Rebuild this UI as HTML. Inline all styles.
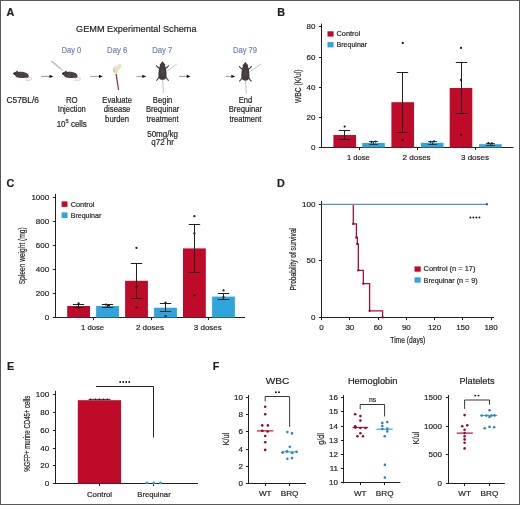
<!DOCTYPE html>
<html><head><meta charset="utf-8"><title>Figure</title>
<style>
html,body{margin:0;padding:0;background:#fff;width:520px;height:505px;overflow:hidden;}
svg{display:block;will-change:transform;}
text{font-family:"Liberation Sans", sans-serif;}
</style></head><body>
<svg width="520" height="505" viewBox="0 0 520 505" font-family='"Liberation Sans", sans-serif'>
<line x1="0.00" y1="0.50" x2="520.00" y2="0.50" stroke="#5a5a5a" stroke-width="1"/>
<line x1="0.50" y1="0.00" x2="0.50" y2="505.00" stroke="#585858" stroke-width="1"/>
<line x1="519.50" y1="0.00" x2="519.50" y2="505.00" stroke="#585858" stroke-width="1"/>
<line x1="0.00" y1="504.50" x2="520.00" y2="504.50" stroke="#585858" stroke-width="1"/>
<text x="6.60" y="16.10" font-size="10.8" font-weight="bold" fill="#231f20" stroke="#231f20" stroke-width="0.2">A</text>
<text x="277.20" y="16.10" font-size="10.8" font-weight="bold" fill="#231f20" stroke="#231f20" stroke-width="0.2">B</text>
<text x="6.60" y="187.10" font-size="10.8" font-weight="bold" fill="#231f20" stroke="#231f20" stroke-width="0.2">C</text>
<text x="276.90" y="187.10" font-size="10.8" font-weight="bold" fill="#231f20" stroke="#231f20" stroke-width="0.2">D</text>
<text x="7.00" y="370.30" font-size="10.8" font-weight="bold" fill="#231f20" stroke="#231f20" stroke-width="0.2">E</text>
<text x="212.80" y="370.30" font-size="10.8" font-weight="bold" fill="#231f20" stroke="#231f20" stroke-width="0.2">F</text>
<text x="136.30" y="31.60" font-size="9.4" text-anchor="middle" textLength="120.50" lengthAdjust="spacingAndGlyphs" fill="#231f20" stroke="#231f20" stroke-width="0.2">GEMM Experimental Schema</text>
<text x="71.40" y="52.90" font-size="8.5" text-anchor="middle" textLength="20.00" lengthAdjust="spacingAndGlyphs" fill="#7186b4" stroke="#7186b4" stroke-width="0.2">Day 0</text>
<text x="117.20" y="52.90" font-size="8.5" text-anchor="middle" textLength="20.20" lengthAdjust="spacingAndGlyphs" fill="#7186b4" stroke="#7186b4" stroke-width="0.2">Day 6</text>
<text x="162.30" y="52.90" font-size="8.5" text-anchor="middle" textLength="20.20" lengthAdjust="spacingAndGlyphs" fill="#7186b4" stroke="#7186b4" stroke-width="0.2">Day 7</text>
<text x="245.00" y="52.90" font-size="8.5" text-anchor="middle" textLength="24.20" lengthAdjust="spacingAndGlyphs" fill="#7186b4" stroke="#7186b4" stroke-width="0.2">Day 79</text>
<text x="22.70" y="102.90" font-size="8.4" text-anchor="middle" textLength="32.40" lengthAdjust="spacingAndGlyphs" fill="#231f20" stroke="#231f20" stroke-width="0.2">C57BL/6</text>
<text x="71.80" y="102.80" font-size="8.4" text-anchor="middle" textLength="11.80" lengthAdjust="spacingAndGlyphs" fill="#231f20" stroke="#231f20" stroke-width="0.2">RO</text>
<text x="71.80" y="112.40" font-size="8.4" text-anchor="middle" textLength="28.00" lengthAdjust="spacingAndGlyphs" fill="#231f20" stroke="#231f20" stroke-width="0.2">Injection</text>
<text x="71.75" y="126.8" fill="#231f20" stroke="#231f20" stroke-width="0.2" font-size="8.4" text-anchor="middle" textLength="30.2" lengthAdjust="spacingAndGlyphs">10<tspan font-size="6" dy="-3.4">5</tspan><tspan dy="3.4"> cells</tspan></text>
<text x="117.10" y="102.80" font-size="8.4" text-anchor="middle" textLength="29.50" lengthAdjust="spacingAndGlyphs" fill="#231f20" stroke="#231f20" stroke-width="0.2">Evaluate</text>
<text x="117.10" y="112.30" font-size="8.4" text-anchor="middle" textLength="26.50" lengthAdjust="spacingAndGlyphs" fill="#231f20" stroke="#231f20" stroke-width="0.2">disease</text>
<text x="117.10" y="121.80" font-size="8.4" text-anchor="middle" textLength="24.00" lengthAdjust="spacingAndGlyphs" fill="#231f20" stroke="#231f20" stroke-width="0.2">burden</text>
<text x="162.60" y="102.70" font-size="8.4" text-anchor="middle" textLength="19.50" lengthAdjust="spacingAndGlyphs" fill="#231f20" stroke="#231f20" stroke-width="0.2">Begin</text>
<text x="162.60" y="112.10" font-size="8.4" text-anchor="middle" textLength="33.40" lengthAdjust="spacingAndGlyphs" fill="#231f20" stroke="#231f20" stroke-width="0.2">Brequinar</text>
<text x="162.60" y="121.60" font-size="8.4" text-anchor="middle" textLength="32.00" lengthAdjust="spacingAndGlyphs" fill="#231f20" stroke="#231f20" stroke-width="0.2">treatment</text>
<text x="162.60" y="136.50" font-size="8.4" text-anchor="middle" textLength="30.80" lengthAdjust="spacingAndGlyphs" fill="#231f20" stroke="#231f20" stroke-width="0.2">50mg/kg</text>
<text x="162.60" y="145.40" font-size="8.4" text-anchor="middle" textLength="22.50" lengthAdjust="spacingAndGlyphs" fill="#231f20" stroke="#231f20" stroke-width="0.2">q72 hr</text>
<text x="245.40" y="102.50" font-size="8.4" text-anchor="middle" textLength="13.50" lengthAdjust="spacingAndGlyphs" fill="#231f20" stroke="#231f20" stroke-width="0.2">End</text>
<text x="245.40" y="112.00" font-size="8.4" text-anchor="middle" textLength="33.40" lengthAdjust="spacingAndGlyphs" fill="#231f20" stroke="#231f20" stroke-width="0.2">Brequinar</text>
<text x="245.40" y="121.50" font-size="8.4" text-anchor="middle" textLength="32.00" lengthAdjust="spacingAndGlyphs" fill="#231f20" stroke="#231f20" stroke-width="0.2">treatment</text>
<line x1="41.00" y1="76.40" x2="50.10" y2="76.40" stroke="#555" stroke-width="0.6"/>
<path d="M49.50,74.80 L53.30,76.40 L49.50,78.00 Z" fill="#111"/>
<line x1="90.30" y1="76.40" x2="99.60" y2="76.40" stroke="#555" stroke-width="0.6"/>
<path d="M99.00,74.80 L102.80,76.40 L99.00,78.00 Z" fill="#111"/>
<line x1="136.40" y1="76.40" x2="143.00" y2="76.40" stroke="#555" stroke-width="0.6"/>
<path d="M142.40,74.80 L146.20,76.40 L142.40,78.00 Z" fill="#111"/>
<line x1="179.00" y1="76.40" x2="187.30" y2="76.40" stroke="#555" stroke-width="0.6"/>
<path d="M186.70,74.80 L190.50,76.40 L186.70,78.00 Z" fill="#111"/>
<line x1="225.60" y1="76.40" x2="232.00" y2="76.40" stroke="#555" stroke-width="0.6"/>
<path d="M231.40,74.80 L235.20,76.40 L231.40,78.00 Z" fill="#111"/>
<g transform="translate(0.00,0)"><path d="M27.8,77.2 C30.4,77.2 32.0,78.2 31.6,79.3 C31.2,80.3 28.6,80.5 25.4,80.1" stroke="#dbc3c3" stroke-width="1.0" fill="none"/><path d="M15.8,77.3 L16.6,78.5 M19.6,77.8 L20.6,78.6 M25.6,77.8 L26.8,78.5" stroke="#dcc2c2" stroke-width="0.9" fill="none"/><path d="M13.2,73.5 C13.6,72.7 14.8,72.0 16.0,71.8 C16.3,71.0 16.9,70.6 17.5,70.8 C18.0,71.0 18.0,71.6 17.9,71.9 C21.0,71.3 25.0,71.8 27.3,73.6 C28.8,74.8 29.3,76.6 28.2,77.4 C25.0,78.0 20.0,78.0 17.5,77.6 C16.0,77.0 15.0,75.6 14.6,75.0 C13.9,74.7 13.3,74.2 13.2,73.5 Z" fill="#463d40"/><path d="M13.2,73.5 C13.5,72.9 14.3,72.5 15.2,72.5 L15.2,74.6 C14.3,74.5 13.5,74.1 13.2,73.5 Z" fill="#2a2326"/><path d="M19.5,73.4 C22,72.8 25,73.2 26.8,74.6 M19,75.6 C22,75.0 25,75.4 27.4,76.4" stroke="#5f5558" stroke-width="0.5" fill="none"/></g>
<g transform="translate(48.80,0)"><path d="M27.8,77.2 C30.4,77.2 32.0,78.2 31.6,79.3 C31.2,80.3 28.6,80.5 25.4,80.1" stroke="#dbc3c3" stroke-width="1.0" fill="none"/><path d="M15.8,77.3 L16.6,78.5 M19.6,77.8 L20.6,78.6 M25.6,77.8 L26.8,78.5" stroke="#dcc2c2" stroke-width="0.9" fill="none"/><path d="M13.2,73.5 C13.6,72.7 14.8,72.0 16.0,71.8 C16.3,71.0 16.9,70.6 17.5,70.8 C18.0,71.0 18.0,71.6 17.9,71.9 C21.0,71.3 25.0,71.8 27.3,73.6 C28.8,74.8 29.3,76.6 28.2,77.4 C25.0,78.0 20.0,78.0 17.5,77.6 C16.0,77.0 15.0,75.6 14.6,75.0 C13.9,74.7 13.3,74.2 13.2,73.5 Z" fill="#463d40"/><path d="M13.2,73.5 C13.5,72.9 14.3,72.5 15.2,72.5 L15.2,74.6 C14.3,74.5 13.5,74.1 13.2,73.5 Z" fill="#2a2326"/><path d="M19.5,73.4 C22,72.8 25,73.2 26.8,74.6 M19,75.6 C22,75.0 25,75.4 27.4,76.4" stroke="#5f5558" stroke-width="0.5" fill="none"/></g>
<line x1="51.00" y1="60.70" x2="62.80" y2="70.60" stroke="#dcdcdc" stroke-width="2.0"/>
<line x1="52.20" y1="61.70" x2="60.80" y2="68.90" stroke="#a8a8a8" stroke-width="1.2" stroke-dasharray="1.4 1.3"/>
<path d="M116.0,73.4 L118.6,90.0" stroke="#7e3a33" stroke-width="1.25" fill="none"/>
<path d="M113.0,67.8 C112.4,69.6 113.2,72.4 115.2,73.8 C116.4,74.4 117.4,73.6 117.4,72.4 C118.4,70.4 119.8,68.8 121.0,67.8 C122.2,66.6 121.8,64.2 120.0,63.8 C118.4,63.6 117.6,65.0 116.8,66.0 C115.8,65.8 113.8,66.4 113.0,67.8 Z" fill="#e6e2c2"/>
<path d="M113.0,67.8 C112.4,69.6 113.2,72.4 115.2,73.8 L115.6,70.0 C114.8,68.8 113.8,68.0 113.0,67.8 Z" fill="#d6cfc0"/>
<path d="M162.50,79.20 C162.70,84.20 163.40,88.20 163.40,92.90" stroke="#b0a6a6" stroke-width="0.75" fill="none"/><line x1="167.30" y1="70.80" x2="176.90" y2="64.00" stroke="#bdbdbd" stroke-width="0.9"/><path d="M159.90,68.80 L157.50,67.00 L156.30,65.40" stroke="#4a3f42" stroke-width="1.1" fill="none"/><path d="M159.30,76.80 L157.50,79.60 L156.20,80.50" stroke="#4a3f42" stroke-width="1.1" fill="none"/><circle cx="160.60" cy="64.60" r="0.9" fill="#4a3f42"/><path d="M165.10,68.80 L167.50,67.00 L168.70,65.40" stroke="#4a3f42" stroke-width="1.1" fill="none"/><path d="M165.70,76.80 L167.50,79.60 L168.80,80.50" stroke="#4a3f42" stroke-width="1.1" fill="none"/><circle cx="164.40" cy="64.60" r="0.9" fill="#4a3f42"/><path d="M162.50,61.20 C163.40,62.20 164.50,63.60 164.90,65.20 C165.30,66.40 165.70,67.20 165.90,68.20 C166.40,70.70 166.70,74.20 166.50,76.70 C166.30,78.70 164.70,79.80 162.50,79.80 C160.30,79.80 158.70,78.70 158.50,76.70 C158.30,74.20 158.60,70.70 159.10,68.20 C159.30,67.20 159.70,66.40 160.10,65.20 C160.50,63.60 161.60,62.20 162.50,61.20 Z" fill="#433a3d"/><ellipse cx="162.50" cy="72.20" rx="1.6" ry="4" fill="#5a5053" opacity="0.5"/>
<path d="M245.40,80.00 C245.60,85.00 246.30,89.00 246.30,93.70" stroke="#b0a6a6" stroke-width="0.75" fill="none"/><line x1="250.40" y1="71.20" x2="261.50" y2="63.80" stroke="#bdbdbd" stroke-width="0.9"/><path d="M242.80,69.60 L240.40,67.80 L239.20,66.20" stroke="#4a3f42" stroke-width="1.1" fill="none"/><path d="M242.20,77.60 L240.40,80.40 L239.10,81.30" stroke="#4a3f42" stroke-width="1.1" fill="none"/><circle cx="243.50" cy="65.40" r="0.9" fill="#4a3f42"/><path d="M248.00,69.60 L250.40,67.80 L251.60,66.20" stroke="#4a3f42" stroke-width="1.1" fill="none"/><path d="M248.60,77.60 L250.40,80.40 L251.70,81.30" stroke="#4a3f42" stroke-width="1.1" fill="none"/><circle cx="247.30" cy="65.40" r="0.9" fill="#4a3f42"/><path d="M245.40,62.00 C246.30,63.00 247.40,64.40 247.80,66.00 C248.20,67.20 248.60,68.00 248.80,69.00 C249.30,71.50 249.60,75.00 249.40,77.50 C249.20,79.50 247.60,80.60 245.40,80.60 C243.20,80.60 241.60,79.50 241.40,77.50 C241.20,75.00 241.50,71.50 242.00,69.00 C242.20,68.00 242.60,67.20 243.00,66.00 C243.40,64.40 244.50,63.00 245.40,62.00 Z" fill="#433a3d"/><ellipse cx="245.40" cy="73.00" rx="1.6" ry="4" fill="#5a5053" opacity="0.5"/>
<line x1="321.50" y1="23.60" x2="321.50" y2="148.00" stroke="#231f20" stroke-width="1"/>
<line x1="318.90" y1="26.50" x2="321.50" y2="26.50" stroke="#231f20" stroke-width="1.0"/>
<text x="315.40" y="29.45" font-size="8.0" text-anchor="end" fill="#231f20" stroke="#231f20" stroke-width="0.2">80</text>
<line x1="318.90" y1="57.50" x2="321.50" y2="57.50" stroke="#231f20" stroke-width="1.0"/>
<text x="315.40" y="59.60" font-size="8.0" text-anchor="end" fill="#231f20" stroke="#231f20" stroke-width="0.2">60</text>
<line x1="318.90" y1="87.50" x2="321.50" y2="87.50" stroke="#231f20" stroke-width="1.0"/>
<text x="315.40" y="89.75" font-size="8.0" text-anchor="end" fill="#231f20" stroke="#231f20" stroke-width="0.2">40</text>
<line x1="318.90" y1="117.50" x2="321.50" y2="117.50" stroke="#231f20" stroke-width="1.0"/>
<text x="315.40" y="119.90" font-size="8.0" text-anchor="end" fill="#231f20" stroke="#231f20" stroke-width="0.2">20</text>
<line x1="318.90" y1="147.50" x2="321.50" y2="147.50" stroke="#231f20" stroke-width="1.0"/>
<text x="315.40" y="150.05" font-size="8.0" text-anchor="end" fill="#231f20" stroke="#231f20" stroke-width="0.2">0</text>
<line x1="321.00" y1="147.50" x2="513.50" y2="147.50" stroke="#231f20" stroke-width="1"/>
<line x1="359.50" y1="147.50" x2="359.50" y2="150.10" stroke="#231f20" stroke-width="1.0"/>
<line x1="417.50" y1="147.50" x2="417.50" y2="150.10" stroke="#231f20" stroke-width="1.0"/>
<line x1="475.50" y1="147.50" x2="475.50" y2="150.10" stroke="#231f20" stroke-width="1.0"/>
<rect x="333.40" y="135.00" width="22.60" height="12.50" fill="#bf0a2a"/>
<rect x="391.40" y="102.20" width="22.60" height="45.30" fill="#bf0a2a"/>
<rect x="449.70" y="88.00" width="22.60" height="59.50" fill="#bf0a2a"/>
<rect x="362.20" y="143.00" width="22.60" height="4.50" fill="#2fa5de"/>
<rect x="420.90" y="142.80" width="22.60" height="4.70" fill="#2fa5de"/>
<rect x="479.10" y="144.20" width="22.60" height="3.30" fill="#2fa5de"/>
<line x1="344.50" y1="130.50" x2="344.50" y2="139.50" stroke="#231f20" stroke-width="1.0"/>
<line x1="338.80" y1="130.50" x2="350.20" y2="130.50" stroke="#231f20" stroke-width="1.0"/>
<line x1="338.80" y1="139.50" x2="350.20" y2="139.50" stroke="#231f20" stroke-width="1.0"/>
<line x1="402.50" y1="72.50" x2="402.50" y2="132.50" stroke="#231f20" stroke-width="1.0"/>
<line x1="396.80" y1="72.50" x2="408.20" y2="72.50" stroke="#231f20" stroke-width="1.0"/>
<line x1="396.80" y1="132.50" x2="408.20" y2="132.50" stroke="#231f20" stroke-width="1.0"/>
<line x1="461.50" y1="62.50" x2="461.50" y2="113.50" stroke="#231f20" stroke-width="1.0"/>
<line x1="455.80" y1="62.50" x2="467.20" y2="62.50" stroke="#231f20" stroke-width="1.0"/>
<line x1="455.80" y1="113.50" x2="467.20" y2="113.50" stroke="#231f20" stroke-width="1.0"/>
<line x1="373.50" y1="141.50" x2="373.50" y2="144.50" stroke="#231f20" stroke-width="0.8"/>
<line x1="369.00" y1="141.50" x2="378.00" y2="141.50" stroke="#231f20" stroke-width="0.8"/>
<line x1="369.00" y1="144.50" x2="378.00" y2="144.50" stroke="#231f20" stroke-width="0.8"/>
<line x1="432.50" y1="141.50" x2="432.50" y2="144.50" stroke="#231f20" stroke-width="0.8"/>
<line x1="428.00" y1="141.50" x2="437.00" y2="141.50" stroke="#231f20" stroke-width="0.8"/>
<line x1="428.00" y1="144.50" x2="437.00" y2="144.50" stroke="#231f20" stroke-width="0.8"/>
<line x1="490.50" y1="143.50" x2="490.50" y2="145.50" stroke="#231f20" stroke-width="0.8"/>
<line x1="486.00" y1="143.50" x2="495.00" y2="143.50" stroke="#231f20" stroke-width="0.8"/>
<line x1="486.00" y1="145.50" x2="495.00" y2="145.50" stroke="#231f20" stroke-width="0.8"/>
<circle cx="344.70" cy="126.60" r="1.15" fill="#231f20"/>
<circle cx="344.70" cy="139.20" r="1.15" fill="#231f20"/>
<circle cx="402.80" cy="43.00" r="1.15" fill="#231f20"/>
<circle cx="402.70" cy="140.20" r="1.15" fill="#231f20"/>
<circle cx="461.00" cy="47.90" r="1.15" fill="#231f20"/>
<circle cx="461.00" cy="80.00" r="1.15" fill="#231f20"/>
<circle cx="461.00" cy="134.80" r="1.15" fill="#231f20"/>
<circle cx="371.50" cy="142.00" r="1.15" fill="#231f20"/>
<circle cx="375.50" cy="141.60" r="1.15" fill="#231f20"/>
<circle cx="430.50" cy="141.80" r="1.15" fill="#231f20"/>
<circle cx="434.00" cy="141.40" r="1.15" fill="#231f20"/>
<circle cx="488.50" cy="143.20" r="1.15" fill="#231f20"/>
<circle cx="492.00" cy="143.40" r="1.15" fill="#231f20"/>
<text x="358.40" y="159.90" font-size="7.8" text-anchor="middle" textLength="23.00" lengthAdjust="spacingAndGlyphs" fill="#231f20" stroke="#231f20" stroke-width="0.2">1 dose</text>
<text x="416.60" y="159.90" font-size="7.8" text-anchor="middle" textLength="28.00" lengthAdjust="spacingAndGlyphs" fill="#231f20" stroke="#231f20" stroke-width="0.2">2 doses</text>
<text x="475.00" y="159.90" font-size="7.8" text-anchor="middle" textLength="28.00" lengthAdjust="spacingAndGlyphs" fill="#231f20" stroke="#231f20" stroke-width="0.2">3 doses</text>
<rect x="327.50" y="31.30" width="6.10" height="5.30" fill="#bf0a2a"/>
<rect x="327.50" y="42.10" width="6.10" height="5.30" fill="#2fa5de"/>
<text x="336.50" y="36.40" font-size="7.8" textLength="23.80" lengthAdjust="spacingAndGlyphs" fill="#231f20" stroke="#231f20" stroke-width="0.2">Control</text>
<text x="336.50" y="47.30" font-size="7.8" textLength="30.60" lengthAdjust="spacingAndGlyphs" fill="#231f20" stroke="#231f20" stroke-width="0.2">Brequinar</text>
<text x="300.70" y="86.20" font-size="9.0" text-anchor="middle" textLength="33.60" lengthAdjust="spacingAndGlyphs" fill="#231f20" stroke="#231f20" stroke-width="0.2" transform="rotate(-90 300.70 86.20)">WBC (K/ul)</text>
<line x1="55.50" y1="193.80" x2="55.50" y2="318.00" stroke="#231f20" stroke-width="1"/>
<line x1="52.90" y1="197.50" x2="55.50" y2="197.50" stroke="#231f20" stroke-width="1.0"/>
<text x="49.20" y="199.55" font-size="8.0" text-anchor="end" fill="#231f20" stroke="#231f20" stroke-width="0.2">1000</text>
<line x1="52.90" y1="221.50" x2="55.50" y2="221.50" stroke="#231f20" stroke-width="1.0"/>
<text x="49.20" y="223.65" font-size="8.0" text-anchor="end" fill="#231f20" stroke="#231f20" stroke-width="0.2">800</text>
<line x1="52.90" y1="245.50" x2="55.50" y2="245.50" stroke="#231f20" stroke-width="1.0"/>
<text x="49.20" y="247.75" font-size="8.0" text-anchor="end" fill="#231f20" stroke="#231f20" stroke-width="0.2">600</text>
<line x1="52.90" y1="269.50" x2="55.50" y2="269.50" stroke="#231f20" stroke-width="1.0"/>
<text x="49.20" y="271.85" font-size="8.0" text-anchor="end" fill="#231f20" stroke="#231f20" stroke-width="0.2">400</text>
<line x1="52.90" y1="293.50" x2="55.50" y2="293.50" stroke="#231f20" stroke-width="1.0"/>
<text x="49.20" y="295.95" font-size="8.0" text-anchor="end" fill="#231f20" stroke="#231f20" stroke-width="0.2">200</text>
<line x1="52.90" y1="317.50" x2="55.50" y2="317.50" stroke="#231f20" stroke-width="1.0"/>
<text x="49.20" y="320.05" font-size="8.0" text-anchor="end" fill="#231f20" stroke="#231f20" stroke-width="0.2">0</text>
<line x1="55.00" y1="317.50" x2="245.00" y2="317.50" stroke="#231f20" stroke-width="1"/>
<line x1="93.50" y1="317.50" x2="93.50" y2="320.10" stroke="#231f20" stroke-width="1.0"/>
<line x1="151.50" y1="317.50" x2="151.50" y2="320.10" stroke="#231f20" stroke-width="1.0"/>
<line x1="208.50" y1="317.50" x2="208.50" y2="320.10" stroke="#231f20" stroke-width="1.0"/>
<rect x="67.20" y="306.00" width="22.80" height="11.50" fill="#bf0a2a"/>
<rect x="125.10" y="280.80" width="22.80" height="36.70" fill="#bf0a2a"/>
<rect x="183.00" y="248.40" width="22.80" height="69.10" fill="#bf0a2a"/>
<rect x="96.10" y="306.00" width="22.80" height="11.50" fill="#2fa5de"/>
<rect x="154.10" y="307.70" width="22.80" height="9.80" fill="#2fa5de"/>
<rect x="212.10" y="296.60" width="22.80" height="20.90" fill="#2fa5de"/>
<line x1="78.50" y1="304.50" x2="78.50" y2="307.50" stroke="#231f20" stroke-width="1.0"/>
<line x1="72.80" y1="304.50" x2="84.20" y2="304.50" stroke="#231f20" stroke-width="1.0"/>
<line x1="72.80" y1="307.50" x2="84.20" y2="307.50" stroke="#231f20" stroke-width="1.0"/>
<line x1="136.50" y1="263.50" x2="136.50" y2="298.50" stroke="#231f20" stroke-width="1.0"/>
<line x1="130.80" y1="263.50" x2="142.20" y2="263.50" stroke="#231f20" stroke-width="1.0"/>
<line x1="130.80" y1="298.50" x2="142.20" y2="298.50" stroke="#231f20" stroke-width="1.0"/>
<line x1="194.50" y1="224.50" x2="194.50" y2="272.50" stroke="#231f20" stroke-width="1.0"/>
<line x1="188.80" y1="224.50" x2="200.20" y2="224.50" stroke="#231f20" stroke-width="1.0"/>
<line x1="188.80" y1="272.50" x2="200.20" y2="272.50" stroke="#231f20" stroke-width="1.0"/>
<line x1="107.50" y1="304.50" x2="107.50" y2="307.50" stroke="#231f20" stroke-width="1.0"/>
<line x1="101.80" y1="304.50" x2="113.20" y2="304.50" stroke="#231f20" stroke-width="1.0"/>
<line x1="101.80" y1="307.50" x2="113.20" y2="307.50" stroke="#231f20" stroke-width="1.0"/>
<line x1="165.50" y1="303.50" x2="165.50" y2="311.50" stroke="#231f20" stroke-width="1.0"/>
<line x1="159.80" y1="303.50" x2="171.20" y2="303.50" stroke="#231f20" stroke-width="1.0"/>
<line x1="159.80" y1="311.50" x2="171.20" y2="311.50" stroke="#231f20" stroke-width="1.0"/>
<line x1="223.50" y1="293.50" x2="223.50" y2="299.50" stroke="#231f20" stroke-width="1.0"/>
<line x1="217.80" y1="293.50" x2="229.20" y2="293.50" stroke="#231f20" stroke-width="1.0"/>
<line x1="217.80" y1="299.50" x2="229.20" y2="299.50" stroke="#231f20" stroke-width="1.0"/>
<circle cx="78.60" cy="303.50" r="1.15" fill="#231f20"/>
<circle cx="78.60" cy="308.20" r="1.15" fill="#231f20"/>
<circle cx="136.50" cy="247.90" r="1.15" fill="#231f20"/>
<circle cx="136.50" cy="287.00" r="1.15" fill="#231f20"/>
<circle cx="136.50" cy="307.30" r="1.15" fill="#231f20"/>
<circle cx="194.40" cy="216.20" r="1.15" fill="#231f20"/>
<circle cx="194.40" cy="233.50" r="1.15" fill="#231f20"/>
<circle cx="194.40" cy="295.40" r="1.15" fill="#231f20"/>
<circle cx="106.00" cy="304.60" r="1.15" fill="#231f20"/>
<circle cx="109.00" cy="305.40" r="1.15" fill="#231f20"/>
<circle cx="165.50" cy="302.60" r="1.15" fill="#231f20"/>
<circle cx="165.50" cy="316.10" r="1.15" fill="#231f20"/>
<circle cx="223.50" cy="290.40" r="1.15" fill="#231f20"/>
<circle cx="223.50" cy="297.20" r="1.15" fill="#231f20"/>
<text x="92.60" y="330.10" font-size="7.8" text-anchor="middle" textLength="23.00" lengthAdjust="spacingAndGlyphs" fill="#231f20" stroke="#231f20" stroke-width="0.2">1 dose</text>
<text x="149.90" y="330.10" font-size="7.8" text-anchor="middle" textLength="28.00" lengthAdjust="spacingAndGlyphs" fill="#231f20" stroke="#231f20" stroke-width="0.2">2 doses</text>
<text x="207.80" y="330.10" font-size="7.8" text-anchor="middle" textLength="28.00" lengthAdjust="spacingAndGlyphs" fill="#231f20" stroke="#231f20" stroke-width="0.2">3 doses</text>
<rect x="61.60" y="201.40" width="5.90" height="5.50" fill="#bf0a2a"/>
<rect x="61.60" y="212.40" width="5.90" height="5.60" fill="#2fa5de"/>
<text x="70.70" y="206.90" font-size="7.8" textLength="23.80" lengthAdjust="spacingAndGlyphs" fill="#231f20" stroke="#231f20" stroke-width="0.2">Control</text>
<text x="70.70" y="217.90" font-size="7.8" textLength="30.60" lengthAdjust="spacingAndGlyphs" fill="#231f20" stroke="#231f20" stroke-width="0.2">Brequinar</text>
<text x="24.90" y="255.80" font-size="8.4" text-anchor="middle" textLength="57.00" lengthAdjust="spacingAndGlyphs" fill="#231f20" stroke="#231f20" stroke-width="0.2" transform="rotate(-90 24.90 255.80)">Spleen weight (mg)</text>
<line x1="321.50" y1="201.00" x2="321.50" y2="318.00" stroke="#231f20" stroke-width="1"/>
<line x1="318.90" y1="204.50" x2="321.50" y2="204.50" stroke="#231f20" stroke-width="1.0"/>
<text x="315.40" y="206.75" font-size="8.0" text-anchor="end" fill="#231f20" stroke="#231f20" stroke-width="0.2">100</text>
<line x1="318.90" y1="260.50" x2="321.50" y2="260.50" stroke="#231f20" stroke-width="1.0"/>
<text x="315.40" y="263.40" font-size="8.0" text-anchor="end" fill="#231f20" stroke="#231f20" stroke-width="0.2">50</text>
<line x1="318.90" y1="317.50" x2="321.50" y2="317.50" stroke="#231f20" stroke-width="1.0"/>
<text x="315.40" y="320.05" font-size="8.0" text-anchor="end" fill="#231f20" stroke="#231f20" stroke-width="0.2">0</text>
<line x1="321.00" y1="317.50" x2="494.00" y2="317.50" stroke="#231f20" stroke-width="1"/>
<line x1="321.50" y1="317.50" x2="321.50" y2="320.10" stroke="#231f20" stroke-width="1.0"/>
<line x1="349.50" y1="317.50" x2="349.50" y2="320.10" stroke="#231f20" stroke-width="1.0"/>
<line x1="378.50" y1="317.50" x2="378.50" y2="320.10" stroke="#231f20" stroke-width="1.0"/>
<line x1="406.50" y1="317.50" x2="406.50" y2="320.10" stroke="#231f20" stroke-width="1.0"/>
<line x1="434.50" y1="317.50" x2="434.50" y2="320.10" stroke="#231f20" stroke-width="1.0"/>
<line x1="462.50" y1="317.50" x2="462.50" y2="320.10" stroke="#231f20" stroke-width="1.0"/>
<line x1="491.50" y1="317.50" x2="491.50" y2="320.10" stroke="#231f20" stroke-width="1.0"/>
<text x="321.60" y="329.90" font-size="8.0" text-anchor="middle" fill="#231f20" stroke="#231f20" stroke-width="0.2">0</text>
<text x="349.85" y="329.90" font-size="8.0" text-anchor="middle" fill="#231f20" stroke="#231f20" stroke-width="0.2">30</text>
<text x="378.10" y="329.90" font-size="8.0" text-anchor="middle" fill="#231f20" stroke="#231f20" stroke-width="0.2">60</text>
<text x="406.35" y="329.90" font-size="8.0" text-anchor="middle" fill="#231f20" stroke="#231f20" stroke-width="0.2">90</text>
<text x="434.60" y="329.90" font-size="8.0" text-anchor="middle" fill="#231f20" stroke="#231f20" stroke-width="0.2">120</text>
<text x="462.85" y="329.90" font-size="8.0" text-anchor="middle" fill="#231f20" stroke="#231f20" stroke-width="0.2">150</text>
<text x="491.10" y="329.90" font-size="8.0" text-anchor="middle" fill="#231f20" stroke="#231f20" stroke-width="0.2">180</text>
<text x="407.80" y="342.80" font-size="8.8" text-anchor="middle" textLength="35.00" lengthAdjust="spacingAndGlyphs" fill="#231f20" stroke="#231f20" stroke-width="0.2">Time (days)</text>
<text x="296.30" y="259.20" font-size="8.2" text-anchor="middle" textLength="62.50" lengthAdjust="spacingAndGlyphs" fill="#231f20" stroke="#231f20" stroke-width="0.2" transform="rotate(-90 296.30 259.20)">Probability of survival</text>
<line x1="321.50" y1="204.40" x2="487.20" y2="204.40" stroke="#5a94c4" stroke-width="1.2"/>
<rect x="485.9" y="203.2" width="2.0" height="2.0" fill="#2d5a66"/>
<path d="M353.3,204.9 V223.9 H356.4 V237.5 H357.3 V243.9 H358.3 V270.4 H363.3 V283.7 H369.6 V310.8 H382.6 V317.4" stroke="#a60e34" stroke-width="1.3" fill="none" stroke-linejoin="miter"/>
<rect x="352.30" y="222.90" width="2" height="2" fill="#8a0c2c"/>
<rect x="355.40" y="236.50" width="2" height="2" fill="#8a0c2c"/>
<rect x="356.30" y="242.90" width="2" height="2" fill="#8a0c2c"/>
<rect x="357.30" y="269.40" width="2" height="2" fill="#8a0c2c"/>
<rect x="362.30" y="282.70" width="2" height="2" fill="#8a0c2c"/>
<rect x="368.60" y="309.80" width="2" height="2" fill="#8a0c2c"/>
<rect x="381.60" y="316.40" width="2" height="2" fill="#8a0c2c"/>
<circle cx="470.40" cy="217.50" r="0.95" fill="#111"/>
<circle cx="473.40" cy="217.50" r="0.95" fill="#111"/>
<circle cx="476.40" cy="217.50" r="0.95" fill="#111"/>
<circle cx="479.40" cy="217.50" r="0.95" fill="#111"/>
<rect x="414.50" y="266.40" width="6.20" height="5.30" fill="#bf0a2a"/>
<rect x="414.50" y="277.30" width="6.20" height="5.40" fill="#2fa5de"/>
<text x="423.60" y="271.40" font-size="7.8" textLength="51.80" lengthAdjust="spacingAndGlyphs" fill="#231f20" stroke="#231f20" stroke-width="0.2">Control (n = 17)</text>
<text x="423.60" y="282.50" font-size="7.8" textLength="54.00" lengthAdjust="spacingAndGlyphs" fill="#231f20" stroke="#231f20" stroke-width="0.2">Brequinar (n = 9)</text>
<line x1="55.50" y1="390.80" x2="55.50" y2="484.00" stroke="#231f20" stroke-width="1"/>
<line x1="52.90" y1="394.50" x2="55.50" y2="394.50" stroke="#231f20" stroke-width="1.0"/>
<text x="49.20" y="397.45" font-size="8.0" text-anchor="end" fill="#231f20" stroke="#231f20" stroke-width="0.2">100</text>
<line x1="52.90" y1="412.50" x2="55.50" y2="412.50" stroke="#231f20" stroke-width="1.0"/>
<text x="49.20" y="415.17" font-size="8.0" text-anchor="end" fill="#231f20" stroke="#231f20" stroke-width="0.2">80</text>
<line x1="52.90" y1="430.50" x2="55.50" y2="430.50" stroke="#231f20" stroke-width="1.0"/>
<text x="49.20" y="432.89" font-size="8.0" text-anchor="end" fill="#231f20" stroke="#231f20" stroke-width="0.2">60</text>
<line x1="52.90" y1="448.50" x2="55.50" y2="448.50" stroke="#231f20" stroke-width="1.0"/>
<text x="49.20" y="450.61" font-size="8.0" text-anchor="end" fill="#231f20" stroke="#231f20" stroke-width="0.2">40</text>
<line x1="52.90" y1="465.50" x2="55.50" y2="465.50" stroke="#231f20" stroke-width="1.0"/>
<text x="49.20" y="468.33" font-size="8.0" text-anchor="end" fill="#231f20" stroke="#231f20" stroke-width="0.2">20</text>
<line x1="52.90" y1="483.50" x2="55.50" y2="483.50" stroke="#231f20" stroke-width="1.0"/>
<text x="49.20" y="486.05" font-size="8.0" text-anchor="end" fill="#231f20" stroke="#231f20" stroke-width="0.2">0</text>
<line x1="55.00" y1="483.50" x2="198.00" y2="483.50" stroke="#231f20" stroke-width="1"/>
<line x1="99.50" y1="483.50" x2="99.50" y2="486.10" stroke="#231f20" stroke-width="1.0"/>
<line x1="153.50" y1="483.50" x2="153.50" y2="486.10" stroke="#231f20" stroke-width="1.0"/>
<rect x="77.80" y="400.20" width="43.20" height="83.30" fill="#bf0a2a"/>
<line x1="88.50" y1="399.40" x2="110.50" y2="399.40" stroke="#231f20" stroke-width="0.9"/>
<circle cx="90.50" cy="399.40" r="0.8" fill="#231f20"/>
<circle cx="95.50" cy="399.40" r="0.8" fill="#231f20"/>
<circle cx="99.40" cy="399.40" r="0.8" fill="#231f20"/>
<circle cx="103.50" cy="399.40" r="0.8" fill="#231f20"/>
<circle cx="107.50" cy="399.40" r="0.8" fill="#231f20"/>
<ellipse cx="147.00" cy="482.9" rx="1.6" ry="1.35" fill="#36a4cc"/>
<ellipse cx="153.90" cy="482.9" rx="1.6" ry="1.35" fill="#36a4cc"/>
<ellipse cx="160.50" cy="482.9" rx="1.6" ry="1.35" fill="#36a4cc"/>
<path d="M96.0,386.5 H153.5 V437.4" stroke="#231f20" stroke-width="1.0" fill="none"/>
<circle cx="120.20" cy="382.00" r="0.95" fill="#111"/>
<circle cx="123.20" cy="382.00" r="0.95" fill="#111"/>
<circle cx="126.20" cy="382.00" r="0.95" fill="#111"/>
<circle cx="129.20" cy="382.00" r="0.95" fill="#111"/>
<text x="99.50" y="496.60" font-size="7.8" text-anchor="middle" textLength="25.20" lengthAdjust="spacingAndGlyphs" fill="#231f20" stroke="#231f20" stroke-width="0.2">Control</text>
<text x="154.00" y="496.60" font-size="7.8" text-anchor="middle" textLength="33.40" lengthAdjust="spacingAndGlyphs" fill="#231f20" stroke="#231f20" stroke-width="0.2">Brequinar</text>
<text x="30.50" y="433.80" font-size="9.4" text-anchor="middle" textLength="76.00" lengthAdjust="spacingAndGlyphs" fill="#231f20" stroke="#231f20" stroke-width="0.2" transform="rotate(-90 30.50 433.80)">%GFP+ murine CD45+ cells</text>
<line x1="248.50" y1="395.00" x2="248.50" y2="483.80" stroke="#231f20" stroke-width="1"/>
<line x1="245.90" y1="397.50" x2="248.50" y2="397.50" stroke="#231f20" stroke-width="1.0"/>
<text x="243.00" y="400.15" font-size="8.0" text-anchor="end" fill="#231f20" stroke="#231f20" stroke-width="0.2">10</text>
<line x1="245.90" y1="414.50" x2="248.50" y2="414.50" stroke="#231f20" stroke-width="1.0"/>
<text x="243.00" y="417.29" font-size="8.0" text-anchor="end" fill="#231f20" stroke="#231f20" stroke-width="0.2">8</text>
<line x1="245.90" y1="431.50" x2="248.50" y2="431.50" stroke="#231f20" stroke-width="1.0"/>
<text x="243.00" y="434.43" font-size="8.0" text-anchor="end" fill="#231f20" stroke="#231f20" stroke-width="0.2">6</text>
<line x1="245.90" y1="449.50" x2="248.50" y2="449.50" stroke="#231f20" stroke-width="1.0"/>
<text x="243.00" y="451.57" font-size="8.0" text-anchor="end" fill="#231f20" stroke="#231f20" stroke-width="0.2">4</text>
<line x1="245.90" y1="466.50" x2="248.50" y2="466.50" stroke="#231f20" stroke-width="1.0"/>
<text x="243.00" y="468.71" font-size="8.0" text-anchor="end" fill="#231f20" stroke="#231f20" stroke-width="0.2">2</text>
<line x1="245.90" y1="483.50" x2="248.50" y2="483.50" stroke="#231f20" stroke-width="1.0"/>
<text x="243.00" y="485.85" font-size="8.0" text-anchor="end" fill="#231f20" stroke="#231f20" stroke-width="0.2">0</text>
<line x1="248.00" y1="483.50" x2="306.00" y2="483.50" stroke="#231f20" stroke-width="1"/>
<line x1="265.50" y1="483.50" x2="265.50" y2="486.10" stroke="#231f20" stroke-width="1.0"/>
<line x1="289.50" y1="483.50" x2="289.50" y2="486.10" stroke="#231f20" stroke-width="1.0"/>
<text x="277.60" y="384.20" font-size="9.2" text-anchor="middle" textLength="23.60" lengthAdjust="spacingAndGlyphs" fill="#231f20" stroke="#231f20" stroke-width="0.2">WBC</text>
<text x="228.60" y="439.00" font-size="8.4" text-anchor="middle" textLength="12.60" lengthAdjust="spacingAndGlyphs" fill="#231f20" stroke="#231f20" stroke-width="0.2" transform="rotate(-90 228.60 439.00)">K/ul</text>
<path d="M265.2,401.3 V396.5 H289.6 V426.8" stroke="#231f20" stroke-width="0.9" fill="none"/>
<circle cx="275.90" cy="392.20" r="0.95" fill="#111"/>
<circle cx="279.00" cy="392.20" r="0.95" fill="#111"/>
<text x="265.20" y="496.20" font-size="7.8" text-anchor="middle" textLength="12.60" lengthAdjust="spacingAndGlyphs" fill="#231f20" stroke="#231f20" stroke-width="0.2">WT</text>
<text x="289.60" y="496.20" font-size="7.8" text-anchor="middle" textLength="17.80" lengthAdjust="spacingAndGlyphs" fill="#231f20" stroke="#231f20" stroke-width="0.2">BRQ</text>
<line x1="256.90" y1="430.90" x2="273.30" y2="430.90" stroke="#c3112f" stroke-width="1.2"/>
<line x1="281.80" y1="451.90" x2="297.60" y2="451.90" stroke="#34a8d6" stroke-width="1.2"/>
<circle cx="265.20" cy="406.80" r="1.3" fill="#8e0c2e"/>
<circle cx="265.20" cy="414.20" r="1.3" fill="#8e0c2e"/>
<circle cx="262.30" cy="425.40" r="1.3" fill="#8e0c2e"/>
<circle cx="267.90" cy="425.40" r="1.3" fill="#8e0c2e"/>
<circle cx="262.30" cy="430.90" r="1.3" fill="#8e0c2e"/>
<circle cx="267.60" cy="431.50" r="1.3" fill="#8e0c2e"/>
<circle cx="265.20" cy="436.00" r="1.3" fill="#8e0c2e"/>
<circle cx="265.20" cy="442.30" r="1.3" fill="#8e0c2e"/>
<circle cx="265.20" cy="449.90" r="1.3" fill="#8e0c2e"/>
<circle cx="287.40" cy="432.10" r="1.3" fill="#2c84bb"/>
<circle cx="292.00" cy="433.40" r="1.3" fill="#2c84bb"/>
<circle cx="289.80" cy="446.70" r="1.3" fill="#2c84bb"/>
<circle cx="282.60" cy="452.60" r="1.3" fill="#2c84bb"/>
<circle cx="287.00" cy="451.40" r="1.3" fill="#2c84bb"/>
<circle cx="292.20" cy="453.00" r="1.3" fill="#2c84bb"/>
<circle cx="296.60" cy="451.80" r="1.3" fill="#2c84bb"/>
<circle cx="287.40" cy="458.80" r="1.3" fill="#2c84bb"/>
<circle cx="292.00" cy="458.10" r="1.3" fill="#2c84bb"/>
<line x1="343.50" y1="395.00" x2="343.50" y2="483.40" stroke="#231f20" stroke-width="1"/>
<line x1="340.90" y1="397.50" x2="343.50" y2="397.50" stroke="#231f20" stroke-width="1.0"/>
<text x="338.00" y="400.25" font-size="8.0" text-anchor="end" fill="#231f20" stroke="#231f20" stroke-width="0.2">16</text>
<line x1="340.90" y1="411.50" x2="343.50" y2="411.50" stroke="#231f20" stroke-width="1.0"/>
<text x="338.00" y="414.45" font-size="8.0" text-anchor="end" fill="#231f20" stroke="#231f20" stroke-width="0.2">15</text>
<line x1="340.90" y1="426.50" x2="343.50" y2="426.50" stroke="#231f20" stroke-width="1.0"/>
<text x="338.00" y="428.65" font-size="8.0" text-anchor="end" fill="#231f20" stroke="#231f20" stroke-width="0.2">14</text>
<line x1="340.90" y1="440.50" x2="343.50" y2="440.50" stroke="#231f20" stroke-width="1.0"/>
<text x="338.00" y="442.85" font-size="8.0" text-anchor="end" fill="#231f20" stroke="#231f20" stroke-width="0.2">13</text>
<line x1="340.90" y1="454.50" x2="343.50" y2="454.50" stroke="#231f20" stroke-width="1.0"/>
<text x="338.00" y="457.05" font-size="8.0" text-anchor="end" fill="#231f20" stroke="#231f20" stroke-width="0.2">12</text>
<line x1="340.90" y1="468.50" x2="343.50" y2="468.50" stroke="#231f20" stroke-width="1.0"/>
<text x="338.00" y="471.25" font-size="8.0" text-anchor="end" fill="#231f20" stroke="#231f20" stroke-width="0.2">11</text>
<line x1="340.90" y1="482.50" x2="343.50" y2="482.50" stroke="#231f20" stroke-width="1.0"/>
<text x="338.00" y="485.45" font-size="8.0" text-anchor="end" fill="#231f20" stroke="#231f20" stroke-width="0.2">10</text>
<line x1="343.00" y1="482.50" x2="400.40" y2="482.50" stroke="#231f20" stroke-width="1"/>
<line x1="360.50" y1="482.50" x2="360.50" y2="485.10" stroke="#231f20" stroke-width="1.0"/>
<line x1="384.50" y1="482.50" x2="384.50" y2="485.10" stroke="#231f20" stroke-width="1.0"/>
<text x="372.70" y="384.20" font-size="9.2" text-anchor="middle" textLength="49.60" lengthAdjust="spacingAndGlyphs" fill="#231f20" stroke="#231f20" stroke-width="0.2">Hemoglobin</text>
<text x="323.80" y="439.00" font-size="8.4" text-anchor="middle" textLength="11.60" lengthAdjust="spacingAndGlyphs" fill="#231f20" stroke="#231f20" stroke-width="0.2" transform="rotate(-90 323.80 439.00)">g/dl</text>
<path d="M360.2,409.4 V404.5 H384.6 V416.5" stroke="#231f20" stroke-width="0.9" fill="none"/>
<text x="372.50" y="402.30" font-size="7.2" text-anchor="middle" textLength="7.20" lengthAdjust="spacingAndGlyphs" fill="#231f20" stroke="#231f20" stroke-width="0.2">ns</text>
<text x="360.20" y="496.20" font-size="7.8" text-anchor="middle" textLength="12.60" lengthAdjust="spacingAndGlyphs" fill="#231f20" stroke="#231f20" stroke-width="0.2">WT</text>
<text x="384.70" y="496.20" font-size="7.8" text-anchor="middle" textLength="17.80" lengthAdjust="spacingAndGlyphs" fill="#231f20" stroke="#231f20" stroke-width="0.2">BRQ</text>
<line x1="352.60" y1="427.50" x2="368.20" y2="427.50" stroke="#c3112f" stroke-width="1.2"/>
<line x1="376.40" y1="429.20" x2="392.70" y2="429.20" stroke="#34a8d6" stroke-width="1.2"/>
<circle cx="355.20" cy="414.30" r="1.3" fill="#8e0c2e"/>
<circle cx="360.40" cy="416.10" r="1.3" fill="#8e0c2e"/>
<circle cx="360.40" cy="420.60" r="1.3" fill="#8e0c2e"/>
<circle cx="355.20" cy="426.20" r="1.3" fill="#8e0c2e"/>
<circle cx="355.40" cy="427.60" r="1.3" fill="#8e0c2e"/>
<circle cx="360.40" cy="428.00" r="1.3" fill="#8e0c2e"/>
<circle cx="365.50" cy="428.00" r="1.3" fill="#8e0c2e"/>
<circle cx="360.40" cy="433.30" r="1.3" fill="#8e0c2e"/>
<circle cx="357.50" cy="436.20" r="1.3" fill="#8e0c2e"/>
<circle cx="363.00" cy="436.20" r="1.3" fill="#8e0c2e"/>
<circle cx="382.30" cy="422.90" r="1.3" fill="#2c84bb"/>
<circle cx="387.30" cy="422.10" r="1.3" fill="#2c84bb"/>
<circle cx="382.30" cy="426.00" r="1.3" fill="#2c84bb"/>
<circle cx="382.40" cy="429.00" r="1.3" fill="#2c84bb"/>
<circle cx="387.30" cy="428.60" r="1.3" fill="#2c84bb"/>
<circle cx="387.30" cy="431.40" r="1.3" fill="#2c84bb"/>
<circle cx="384.70" cy="436.30" r="1.3" fill="#2c84bb"/>
<circle cx="384.90" cy="464.90" r="1.3" fill="#2c84bb"/>
<circle cx="384.90" cy="477.60" r="1.3" fill="#2c84bb"/>
<line x1="448.50" y1="395.00" x2="448.50" y2="483.80" stroke="#231f20" stroke-width="1"/>
<line x1="445.90" y1="397.50" x2="448.50" y2="397.50" stroke="#231f20" stroke-width="1.0"/>
<text x="441.90" y="400.25" font-size="8.0" text-anchor="end" fill="#231f20" stroke="#231f20" stroke-width="0.2">1500</text>
<line x1="445.90" y1="426.50" x2="448.50" y2="426.50" stroke="#231f20" stroke-width="1.0"/>
<text x="441.90" y="428.78" font-size="8.0" text-anchor="end" fill="#231f20" stroke="#231f20" stroke-width="0.2">1000</text>
<line x1="445.90" y1="454.50" x2="448.50" y2="454.50" stroke="#231f20" stroke-width="1.0"/>
<text x="441.90" y="457.32" font-size="8.0" text-anchor="end" fill="#231f20" stroke="#231f20" stroke-width="0.2">500</text>
<line x1="445.90" y1="483.50" x2="448.50" y2="483.50" stroke="#231f20" stroke-width="1.0"/>
<text x="441.90" y="485.85" font-size="8.0" text-anchor="end" fill="#231f20" stroke="#231f20" stroke-width="0.2">0</text>
<line x1="448.00" y1="483.50" x2="504.80" y2="483.50" stroke="#231f20" stroke-width="1"/>
<line x1="464.50" y1="483.50" x2="464.50" y2="486.10" stroke="#231f20" stroke-width="1.0"/>
<line x1="489.50" y1="483.50" x2="489.50" y2="486.10" stroke="#231f20" stroke-width="1.0"/>
<text x="477.00" y="384.20" font-size="9.2" text-anchor="middle" textLength="35.20" lengthAdjust="spacingAndGlyphs" fill="#231f20" stroke="#231f20" stroke-width="0.2">Platelets</text>
<text x="419.30" y="438.00" font-size="8.4" text-anchor="middle" textLength="12.60" lengthAdjust="spacingAndGlyphs" fill="#231f20" stroke="#231f20" stroke-width="0.2" transform="rotate(-90 419.30 438.00)">K/ul</text>
<path d="M464.6,408.9 V400.0 H489.5 V404.7" stroke="#231f20" stroke-width="0.9" fill="none"/>
<circle cx="475.30" cy="395.60" r="0.95" fill="#111"/>
<circle cx="478.50" cy="395.60" r="0.95" fill="#111"/>
<text x="464.60" y="496.20" font-size="7.8" text-anchor="middle" textLength="12.60" lengthAdjust="spacingAndGlyphs" fill="#231f20" stroke="#231f20" stroke-width="0.2">WT</text>
<text x="489.50" y="496.20" font-size="7.8" text-anchor="middle" textLength="17.80" lengthAdjust="spacingAndGlyphs" fill="#231f20" stroke="#231f20" stroke-width="0.2">BRQ</text>
<line x1="456.70" y1="433.10" x2="472.90" y2="433.10" stroke="#c3112f" stroke-width="1.2"/>
<line x1="481.20" y1="415.50" x2="497.20" y2="415.50" stroke="#34a8d6" stroke-width="1.2"/>
<circle cx="464.60" cy="415.10" r="1.3" fill="#8e0c2e"/>
<circle cx="462.20" cy="426.20" r="1.3" fill="#8e0c2e"/>
<circle cx="467.30" cy="425.20" r="1.3" fill="#8e0c2e"/>
<circle cx="464.60" cy="429.70" r="1.3" fill="#8e0c2e"/>
<circle cx="464.60" cy="433.10" r="1.3" fill="#8e0c2e"/>
<circle cx="464.60" cy="436.30" r="1.3" fill="#8e0c2e"/>
<circle cx="464.60" cy="439.40" r="1.3" fill="#8e0c2e"/>
<circle cx="464.60" cy="442.80" r="1.3" fill="#8e0c2e"/>
<circle cx="464.60" cy="448.40" r="1.3" fill="#8e0c2e"/>
<circle cx="489.50" cy="410.30" r="1.3" fill="#2c84bb"/>
<circle cx="481.60" cy="415.50" r="1.3" fill="#2c84bb"/>
<circle cx="486.40" cy="415.60" r="1.3" fill="#2c84bb"/>
<circle cx="491.40" cy="415.60" r="1.3" fill="#2c84bb"/>
<circle cx="489.50" cy="417.00" r="1.3" fill="#2c84bb"/>
<circle cx="494.60" cy="415.40" r="1.3" fill="#2c84bb"/>
<circle cx="484.70" cy="428.30" r="1.3" fill="#2c84bb"/>
<circle cx="489.50" cy="426.90" r="1.3" fill="#2c84bb"/>
<circle cx="494.10" cy="427.20" r="1.3" fill="#2c84bb"/>
</svg>
</body></html>
